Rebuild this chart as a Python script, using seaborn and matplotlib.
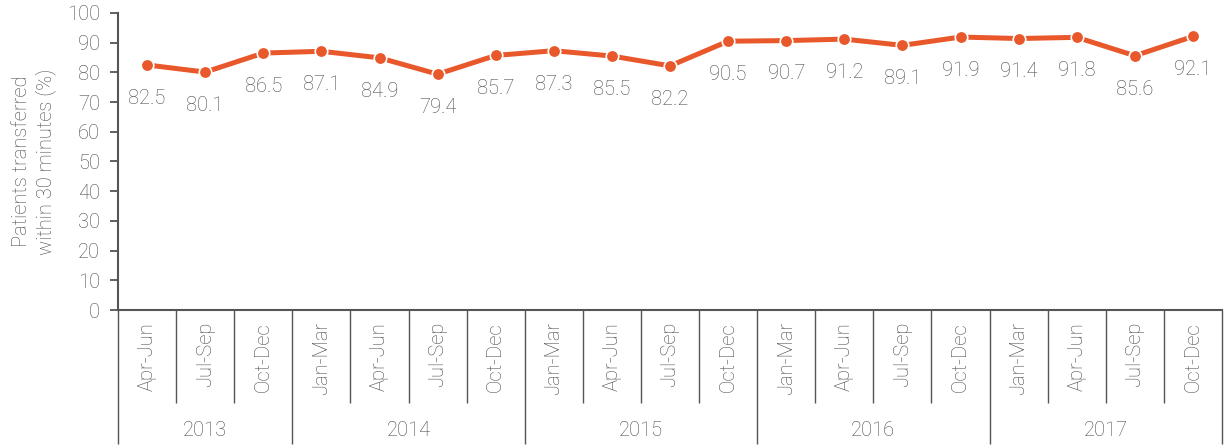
import matplotlib
matplotlib.use("Agg")
import matplotlib.pyplot as plt
import matplotlib.transforms as mtransforms
import seaborn as sns
import pandas as pd

# Quarterly share of patients transferred within 30 minutes
quarters = ["Apr-Jun", "Jul-Sep", "Oct-Dec",
            "Jan-Mar", "Apr-Jun", "Jul-Sep", "Oct-Dec",
            "Jan-Mar", "Apr-Jun", "Jul-Sep", "Oct-Dec",
            "Jan-Mar", "Apr-Jun", "Jul-Sep", "Oct-Dec",
            "Jan-Mar", "Apr-Jun", "Jul-Sep", "Oct-Dec"]
years = ["2013", "2014", "2015", "2016", "2017"]
quarters_per_year = [3, 4, 4, 4, 4]
values = [82.5, 80.1, 86.5, 87.1, 84.9, 79.4, 85.7, 87.3, 85.5, 82.2,
          90.5, 90.7, 91.2, 89.1, 91.9, 91.4, 91.8, 85.6, 92.1]

ORANGE = "#E8582A"
GREY = "#4A4A4A"
LINE_GREY = "#555555"
FS = 14.5

sns.set_theme(style="white")
plt.rcParams["font.family"] = ["Roboto", "DejaVu Sans"]
plt.rcParams["font.weight"] = "light"
plt.rcParams["axes.labelweight"] = "light"

df = pd.DataFrame({"pos": range(len(values)), "value": values})

fig = plt.figure(figsize=(12.31, 4.46), dpi=100)
ax = fig.add_axes([0.0959, 0.3049, 0.8968, 0.6660])

sns.lineplot(data=df, x="pos", y="value", ax=ax, color=ORANGE, linewidth=3.6,
             marker="o", markersize=9, markeredgecolor="white",
             markeredgewidth=1.2)

for x, v in zip(df["pos"], df["value"]):
    ax.annotate(f"{v:.1f}", (x, v), xytext=(0, -24), textcoords="offset points",
                ha="center", va="center", fontsize=FS, color=GREY)

ax.set_xlim(-0.5, len(values) - 0.5)
ax.set_ylim(0, 100)
ax.set_yticks(range(0, 101, 10))
ax.tick_params(axis="y", length=6, width=1.3, color=LINE_GREY, labelsize=FS,
               labelcolor=GREY, pad=7, left=True)
ax.set_xticks([])
ax.set_xlabel("")
ax.set_ylabel("Patients transferred\nwithin 30 minutes (%)", fontsize=FS,
              fontweight="light", color=GREY, labelpad=8, linespacing=1.25)

for side in ["top", "right"]:
    ax.spines[side].set_visible(False)
for side in ["left", "bottom"]:
    ax.spines[side].set_color(LINE_GREY)
    ax.spines[side].set_linewidth(1.5)

# Two-level category axis: quarter labels and year groups
trans = mtransforms.blended_transform_factory(ax.transData, ax.transAxes)
for i, q in enumerate(quarters):
    ax.text(i, -0.040, q, transform=trans, rotation=90, ha="center", va="top",
            fontsize=FS, color=GREY)

boundaries = [-0.5 + i for i in range(len(values) + 1)]
year_edges = [-0.5]
for n in quarters_per_year:
    year_edges.append(year_edges[-1] + n)

for b in boundaries:
    bottom = -0.452 if b in year_edges else -0.312
    ax.plot([b, b], [0, bottom], transform=trans, color=LINE_GREY, lw=1.0,
            clip_on=False, solid_capstyle="butt")

for y, a, b in zip(years, year_edges[:-1], year_edges[1:]):
    ax.text((a + b) / 2, -0.405, y, transform=trans, ha="center", va="center",
            fontsize=FS, color=GREY)

fig.savefig("out.png", dpi=100)
